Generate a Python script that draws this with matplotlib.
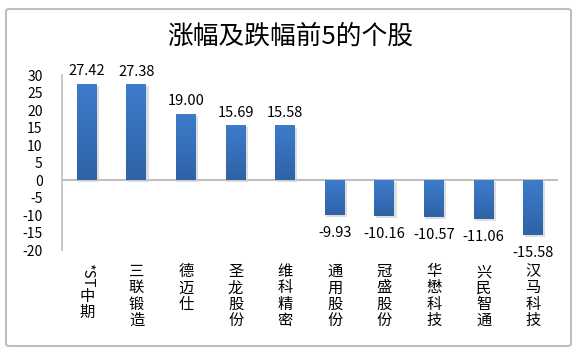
import matplotlib
matplotlib.use("Agg")
import matplotlib.pyplot as plt
import numpy as np
from matplotlib.patches import FancyBboxPatch
from matplotlib.colors import LinearSegmentedColormap
import matplotlib.transforms as mtransforms

plt.rcParams['font.family'] = ['Noto Sans CJK SC', 'DejaVu Sans']

categories = ["*ST中期", "三联锻造", "德迈仕", "圣龙股份", "维科精密",
              "通用股份", "冠盛股份", "华懋科技", "兴民智通", "汉马科技"]
values = [27.42, 27.38, 19.00, 15.69, 15.58, -9.93, -10.16, -10.57, -11.06, -15.58]
value_labels = ["27.42", "27.38", "19.00", "15.69", "15.58",
                "-9.93", "-10.16", "-10.57", "-11.06", "-15.58"]
yticks = [30, 25, 20, 15, 10, 5, 0, -5, -10, -15, -20]
title = "涨幅及跌幅前5的个股"

W, H = 583, 354
fig = plt.figure(figsize=(W / 100, H / 100), dpi=100)
fig.patch.set_facecolor("white")

# outer border
border = FancyBboxPatch((6 / W, 8 / H), 565 / W, 337 / H,
                        boxstyle="round,pad=0,rounding_size=0.006",
                        transform=fig.transFigure, facecolor="none",
                        edgecolor="#BFBFBF", linewidth=1.5, zorder=-1)
fig.patches.append(border)

ax_left, ax_right = 62, 558
ax_top, ax_bottom = 75, 250
ax = fig.add_axes([ax_left / W, 1 - ax_bottom / H,
                   (ax_right - ax_left) / W, (ax_bottom - ax_top) / H])
ax.set_facecolor("none")

x = list(range(len(categories)))
bw = 0.40
cmap = LinearSegmentedColormap.from_list("barg", ["#2F62A6", "#3D7CCB"])
# soft shadow
ax.bar([i + 0.035 for i in x], [v * 1.0 for v in values], width=bw + 0.02,
       bottom=[-0.6] * len(values), color="#D0D0D0", alpha=0.7,
       edgecolor="none", zorder=2)
bars = ax.bar(x, values, width=bw, color="#3671BD", edgecolor="none", zorder=3)
for b in bars:
    x0 = b.get_x()
    x1 = x0 + b.get_width()
    y0 = min(b.get_y(), b.get_y() + b.get_height())
    y1 = max(b.get_y(), b.get_y() + b.get_height())
    grad = np.linspace(0, 1, 64).reshape(-1, 1)
    im = ax.imshow(grad, cmap=cmap, extent=[x0, x1, y0, y1], origin="lower",
                   aspect="auto", zorder=4)
    im.set_clip_path(b)

ax.set_xlim(-0.5, len(categories) - 0.5)
ax.set_ylim(-20, 30)
ax.set_yticks(yticks)
ax.set_yticklabels([str(t) for t in yticks], fontsize=10, color="#000000")
ax.tick_params(axis="y", length=0, pad=14)
ax.set_xticks([])

for s in ["top", "right", "bottom"]:
    ax.spines[s].set_visible(False)
ax.spines["left"].set_color("#BFBFBF")
ax.spines["left"].set_linewidth(1.2)
ax.axhline(0, color="#BFBFBF", linewidth=1.5, zorder=1)

for xi, v, lab in zip(x, values, value_labels):
    if v >= 0:
        ax.annotate(lab, (xi, v), xytext=(0, 4), textcoords="offset points",
                    ha="center", va="bottom", fontsize=10.5, color="#000000")
    else:
        ax.annotate(lab, (xi, v), xytext=(0, -8), textcoords="offset points",
                    ha="center", va="top", fontsize=10.5, color="#000000")

# vertical category labels
trans = mtransforms.blended_transform_factory(ax.transData, fig.transFigure)
label_top = 1 - 263 / H
for xi, cat in zip(x, categories):
    if cat.startswith("*ST"):
        ax.text(xi, label_top, "*ST", rotation=-90, ha="center", va="top",
                fontsize=10.5, transform=trans, color="#000000")
        ax.text(xi, label_top - 25 / H, "\n".join(cat[3:]), ha="center", va="top",
                fontsize=11, transform=trans, linespacing=0.95, color="#000000")
    else:
        ax.text(xi, label_top, "\n".join(cat), ha="center", va="top",
                fontsize=11, transform=trans, linespacing=0.95, color="#000000")

fig.text(290 / W, 1 - 37 / H, title, ha="center", va="center", fontsize=18.5,
         color="#000000")

fig.savefig("out.png", dpi=100, facecolor="white")
